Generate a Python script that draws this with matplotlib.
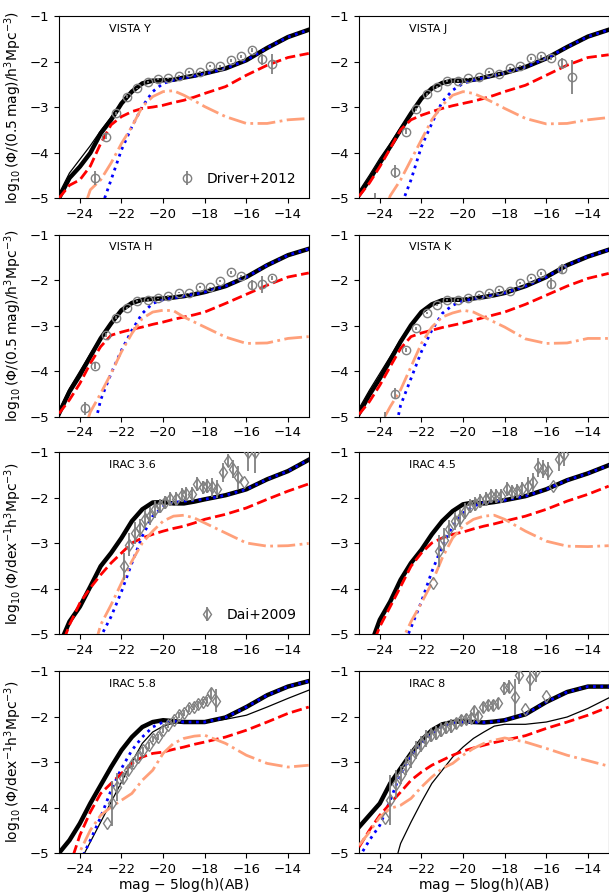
import matplotlib.pyplot as plt

plt.rcParams['mathtext.default'] = 'regular'
plt.rcParams['font.size'] = 9.5

# magnitude grid shared by all model curves
mag = [-25, -24.5, -24, -23.5, -23, -22.5, -22, -21.5, -21, -20.5, -20,
       -19.5, -19, -18.5, -18, -17, -16, -15, -14, -13]

# ---- VISTA Y ----
y_total = [-5.0, -4.56, -4.31, -4.01, -3.58, -3.28, -2.92, -2.66, -2.48, -2.42, -2.41,
           -2.40, -2.35, -2.31, -2.26, -2.15, -1.97, -1.70, -1.46, -1.30]
y_thin = [-4.9, -4.45, -4.15, -3.85, -3.52, -3.22, -2.90, -2.65, -2.48, -2.42, -2.41,
          -2.40, -2.35, -2.31, -2.26, -2.15, -1.97, -1.70, -1.46, -1.30]
y_blue = [-6, -6, -6, -5.8, -5.25, -4.6, -3.94, -3.43, -2.99, -2.66, -2.48,
          -2.41, -2.36, -2.32, -2.27, -2.15, -1.97, -1.70, -1.46, -1.30]
y_red = [-5.0, -4.72, -4.6, -4.3, -3.8, -3.39, -3.21, -3.10, -3.03, -3.0, -2.96,
         -2.90, -2.85, -2.78, -2.70, -2.55, -2.30, -2.08, -1.91, -1.82]
y_dd = [-6, -6, -5.5, -4.82, -4.6, -4.23, -3.80, -3.43, -2.99, -2.77, -2.66,
        -2.64, -2.74, -2.86, -2.99, -3.21, -3.36, -3.36, -3.28, -3.25]
y_obs_x = [-23.25, -22.75, -22.25, -21.75, -21.25, -20.75, -20.25, -19.75, -19.25,
           -18.75, -18.25, -17.75, -17.25, -16.75, -16.25, -15.75, -15.25, -14.75]
y_obs = [-4.56, -3.65, -3.14, -2.77, -2.59, -2.45, -2.39, -2.37, -2.32,
         -2.23, -2.23, -2.10, -2.10, -1.97, -1.88, -1.74, -1.95, -2.06]
y_obs_err = [0.15, 0.05, 0.03, 0.03, 0.02, 0.02, 0.02, 0.02, 0.02,
             0.02, 0.02, 0.02, 0.02, 0.03, 0.03, 0.04, 0.12, 0.22]

# ---- VISTA J ----
j_total = [-4.93, -4.6, -4.23, -3.87, -3.5, -3.14, -2.81, -2.59, -2.47, -2.42, -2.42,
           -2.40, -2.35, -2.30, -2.25, -2.12, -1.93, -1.68, -1.45, -1.30]
j_thin = [-4.85, -4.5, -4.13, -3.8, -3.45, -3.12, -2.80, -2.59, -2.47, -2.42, -2.42,
          -2.40, -2.35, -2.30, -2.25, -2.12, -1.93, -1.68, -1.45, -1.30]
j_blue = [-6, -6, -6, -6, -5.2, -4.6, -3.87, -3.36, -2.88, -2.63, -2.48,
          -2.41, -2.36, -2.31, -2.25, -2.12, -1.93, -1.68, -1.45, -1.30]
j_red = [-4.96, -4.67, -4.31, -3.91, -3.5, -3.28, -3.18, -3.10, -3.03, -2.97, -2.92,
         -2.87, -2.81, -2.74, -2.66, -2.52, -2.30, -2.08, -1.91, -1.85]
j_dd = [-6, -6, -5.6, -4.95, -4.6, -4.16, -3.72, -3.28, -2.96, -2.74, -2.66,
        -2.70, -2.80, -2.91, -3.03, -3.25, -3.37, -3.36, -3.28, -3.23]
j_obs_x = [-24.25, -23.25, -22.75, -22.25, -21.75, -21.25, -20.75, -20.25, -19.75,
           -19.25, -18.75, -18.25, -17.75, -17.25, -16.75, -16.25, -15.75, -15.25, -14.75]
j_obs = [-5.1, -4.42, -3.54, -3.05, -2.72, -2.55, -2.42, -2.42, -2.37,
         -2.34, -2.23, -2.28, -2.14, -2.09, -1.93, -1.88, -1.93, -2.04, -2.34]
j_obs_err = [0.2, 0.15, 0.05, 0.03, 0.03, 0.02, 0.02, 0.02, 0.02,
             0.02, 0.02, 0.02, 0.02, 0.02, 0.03, 0.03, 0.04, 0.12, 0.38]

# ---- VISTA H ----
h_total = [-4.93, -4.45, -4.09, -3.68, -3.28, -2.95, -2.66, -2.50, -2.43, -2.41, -2.40,
           -2.38, -2.35, -2.31, -2.26, -2.13, -1.93, -1.67, -1.45, -1.31]
h_thin = [-4.85, -4.38, -4.0, -3.62, -3.25, -2.93, -2.66, -2.50, -2.43, -2.41, -2.40,
          -2.38, -2.35, -2.31, -2.26, -2.13, -1.93, -1.67, -1.45, -1.31]
h_blue = [-6, -6, -6, -5.6, -4.63, -4.05, -3.54, -3.10, -2.73, -2.51, -2.43,
          -2.39, -2.35, -2.31, -2.26, -2.13, -1.93, -1.67, -1.45, -1.31]
h_red = [-4.93, -4.63, -4.27, -3.83, -3.46, -3.21, -3.14, -3.08, -3.03, -2.97, -2.92,
         -2.86, -2.81, -2.76, -2.70, -2.51, -2.31, -2.11, -1.93, -1.84]
h_dd = [-6, -6, -5.6, -4.9, -4.49, -4.05, -3.57, -3.17, -2.84, -2.70, -2.66,
        -2.67, -2.81, -2.92, -3.03, -3.25, -3.39, -3.38, -3.28, -3.24]
h_obs_x = [-23.75, -23.25, -22.75, -22.25, -21.75, -21.25, -20.75, -20.25, -19.75,
           -19.25, -18.75, -18.25, -17.75, -17.25, -16.75, -16.25, -15.75, -15.25, -14.75]
h_obs = [-4.82, -3.88, -3.21, -2.82, -2.61, -2.46, -2.44, -2.40, -2.35,
         -2.27, -2.29, -2.15, -2.16, -2.02, -1.83, -1.91, -2.10, -2.09, -1.95]
h_obs_err = [0.15, 0.08, 0.04, 0.03, 0.02, 0.02, 0.02, 0.02, 0.02,
             0.02, 0.02, 0.02, 0.02, 0.02, 0.03, 0.03, 0.1, 0.18, 0.04]

# ---- VISTA K ----
k_total = [-4.93, -4.52, -4.16, -3.76, -3.35, -2.99, -2.70, -2.53, -2.44, -2.43, -2.43,
           -2.40, -2.37, -2.33, -2.28, -2.13, -1.93, -1.67, -1.48, -1.33]
k_thin = [-4.82, -4.42, -4.05, -3.68, -3.30, -2.97, -2.70, -2.53, -2.44, -2.43, -2.43,
          -2.40, -2.37, -2.33, -2.28, -2.13, -1.93, -1.67, -1.48, -1.33]
k_blue = [-6, -6, -6, -5.8, -4.75, -4.16, -3.57, -3.10, -2.73, -2.55, -2.46,
          -2.41, -2.37, -2.33, -2.28, -2.13, -1.93, -1.67, -1.48, -1.33]
k_red = [-4.95, -4.67, -4.31, -3.9, -3.50, -3.24, -3.16, -3.10, -3.04, -2.99, -2.94,
         -2.88, -2.82, -2.76, -2.70, -2.53, -2.33, -2.13, -1.96, -1.85]
k_dd = [-6, -6, -5.2, -4.78, -4.41, -3.90, -3.39, -3.03, -2.81, -2.72, -2.66,
        -2.70, -2.81, -2.92, -3.03, -3.29, -3.39, -3.38, -3.28, -3.28]
k_obs_x = [-23.75, -23.25, -22.75, -22.25, -21.75, -21.25, -20.75, -20.25, -19.75,
           -19.25, -18.75, -18.25, -17.75, -17.25, -16.75, -16.25, -15.75, -15.25]
k_obs = [-5.2, -4.50, -3.54, -3.06, -2.72, -2.54, -2.43, -2.43, -2.38,
         -2.33, -2.28, -2.21, -2.24, -2.06, -1.95, -1.85, -2.08, -1.75]
k_obs_err = [0.3, 0.12, 0.04, 0.03, 0.03, 0.02, 0.02, 0.02, 0.02,
             0.02, 0.02, 0.02, 0.02, 0.02, 0.03, 0.03, 0.12, 0.1]

# ---- IRAC 3.6 ----
i1_total = [-5.25, -4.72, -4.39, -3.95, -3.50, -3.21, -2.88, -2.51, -2.25, -2.10, -2.09,
            -2.12, -2.12, -2.08, -2.03, -1.94, -1.81, -1.59, -1.41, -1.16]
i1_blue = [-6, -6, -6, -6, -5.05, -4.61, -4.06, -3.43, -2.84, -2.40, -2.19,
           -2.10, -2.07, -2.05, -2.03, -1.94, -1.81, -1.59, -1.41, -1.16]
i1_red = [-5.4, -4.79, -4.31, -3.98, -3.69, -3.43, -3.21, -2.99, -2.88, -2.80, -2.73,
          -2.67, -2.62, -2.55, -2.47, -2.36, -2.22, -2.03, -1.85, -1.69]
i1_dd = [-6, -6, -6, -5.6, -4.79, -4.35, -3.87, -3.39, -2.99, -2.73, -2.51,
         -2.40, -2.38, -2.44, -2.55, -2.77, -2.99, -3.06, -3.05, -3.00]
i1_obs_x = [-21.88, -21.64, -21.37, -21.13, -20.89, -20.65, -20.40, -20.17, -19.90,
            -19.67, -19.40, -19.10, -18.90, -18.60, -18.36, -18.10, -17.90, -17.65,
            -17.40, -17.10, -16.90, -16.65, -16.40, -16.10, -15.90, -15.60]
i1_obs = [-3.50, -3.03, -2.77, -2.66, -2.47, -2.40, -2.25, -2.18, -2.10,
          -2.03, -2.03, -1.94, -1.92, -1.92, -1.70, -1.77, -1.74, -1.77,
          -1.81, -1.44, -1.18, -1.37, -1.55, -1.66, -1.00, -1.00]
i1_obs_err = [0.3, 0.25, 0.25, 0.2, 0.2, 0.2, 0.18, 0.15, 0.15,
              0.15, 0.15, 0.15, 0.15, 0.15, 0.15, 0.15, 0.15, 0.2,
              0.2, 0.2, 0.15, 0.2, 0.25, 0.0, 0.4, 0.45]

# ---- IRAC 4.5 ----
i2_total = [-5.9, -5.3, -4.68, -4.28, -3.80, -3.43, -3.14, -2.80, -2.51, -2.29, -2.14,
            -2.10, -2.12, -2.09, -2.05, -1.96, -1.81, -1.61, -1.46, -1.28]
i2_blue = [-6, -6, -6, -6, -5.4, -4.85, -4.28, -3.62, -3.06, -2.62, -2.33,
           -2.18, -2.10, -2.07, -2.05, -1.96, -1.81, -1.61, -1.46, -1.28]
i2_red = [-6, -5.4, -4.83, -4.39, -3.95, -3.50, -3.21, -2.99, -2.88, -2.80, -2.75,
          -2.68, -2.62, -2.57, -2.51, -2.40, -2.25, -2.07, -1.92, -1.74]
i2_dd = [-6, -6, -6, -6, -5.2, -4.72, -4.31, -3.87, -3.32, -2.88, -2.62,
         -2.47, -2.40, -2.38, -2.47, -2.73, -2.95, -3.06, -3.07, -3.05]
i2_obs_x = [-21.42, -21.16, -20.92, -20.68, -20.40, -20.17, -19.90, -19.66, -19.42,
            -19.18, -18.92, -18.65, -18.40, -18.17, -17.90, -17.64, -17.40, -17.16,
            -16.90, -16.65, -16.40, -16.17, -15.93, -15.66, -15.40, -15.16]
i2_obs = [-3.87, -3.17, -2.92, -2.69, -2.51, -2.44, -2.29, -2.18, -2.14,
          -2.07, -2.03, -1.96, -1.96, -1.96, -1.81, -1.87, -1.85, -1.81,
          -1.74, -1.66, -1.33, -1.37, -1.40, -1.74, -1.15, -1.04]
i2_obs_err = [0.0, 0.35, 0.25, 0.2, 0.2, 0.2, 0.18, 0.15, 0.15,
              0.15, 0.15, 0.15, 0.15, 0.15, 0.15, 0.15, 0.15, 0.15,
              0.2, 0.2, 0.2, 0.2, 0.2, 0.0, 0.25, 0.25]

# ---- IRAC 5.8 ----
i3_total = [-5.0, -4.72, -4.35, -3.91, -3.51, -3.11, -2.74, -2.45, -2.23, -2.12, -2.08,
            -2.10, -2.12, -2.12, -2.12, -2.02, -1.79, -1.53, -1.34, -1.22]
i3_thin = [-6, -6, -5.2, -4.76, -4.32, -3.88, -3.44, -3.00, -2.59, -2.34, -2.21,
           -2.14, -2.12, -2.12, -2.12, -2.06, -1.97, -1.79, -1.60, -1.42]
i3_blue = [-6, -6, -5.2, -4.72, -4.21, -3.62, -3.14, -2.74, -2.45, -2.23, -2.12,
           -2.10, -2.12, -2.12, -2.12, -2.02, -1.79, -1.53, -1.34, -1.22]
i3_red = [-6, -5.3, -4.61, -4.10, -3.69, -3.47, -3.25, -3.03, -2.89, -2.81, -2.78,
          -2.72, -2.67, -2.61, -2.56, -2.45, -2.30, -2.12, -1.93, -1.79]
i3_dd = [-6, -5.6, -4.97, -4.5, -4.17, -3.99, -3.84, -3.69, -3.40, -3.18, -2.81,
         -2.59, -2.48, -2.43, -2.41, -2.59, -2.85, -3.03, -3.11, -3.07]
i3_obs_x = [-22.70, -22.44, -22.20, -21.93, -21.70, -21.45, -21.20, -20.96, -20.70,
            -20.47, -20.25, -20.00, -19.75, -19.50, -19.26, -19.00, -18.77, -18.50,
            -18.30, -18.10, -17.90, -17.70, -17.45]
i3_obs = [-4.34, -3.91, -3.55, -3.36, -3.18, -3.03, -2.89, -2.74, -2.63,
          -2.50, -2.45, -2.30, -2.19, -2.08, -1.97, -1.92, -1.82, -1.79,
          -1.73, -1.68, -1.64, -1.49, -1.65]
i3_obs_err = [0.0, 0.5, 0.3, 0.1, 0.1, 0.08, 0.08, 0.08, 0.08,
              0.07, 0.07, 0.07, 0.07, 0.07, 0.07, 0.07, 0.07, 0.07,
              0.07, 0.07, 0.07, 0.1, 0.25]

# ---- IRAC 8 ----
i4_total = [-4.43, -4.17, -3.91, -3.47, -3.14, -2.81, -2.52, -2.30, -2.17, -2.12, -2.10,
            -2.12, -2.13, -2.11, -2.08, -1.95, -1.68, -1.46, -1.34, -1.34]
i4_thin = [-6, -6, -6, -5.6, -4.79, -4.32, -3.88, -3.47, -3.18, -2.89, -2.67,
           -2.48, -2.34, -2.21, -2.17, -2.17, -2.12, -2.01, -1.82, -1.59]
i4_blue = [-5.1, -4.72, -4.39, -3.84, -3.25, -2.88, -2.60, -2.38, -2.21, -2.14, -2.12,
           -2.12, -2.13, -2.11, -2.08, -1.95, -1.68, -1.46, -1.34, -1.34]
i4_red = [-4.87, -4.50, -4.17, -3.91, -3.66, -3.40, -3.22, -3.07, -2.96, -2.85, -2.76,
          -2.69, -2.63, -2.57, -2.52, -2.42, -2.26, -2.12, -1.97, -1.79]
i4_dd = [-4.83, -4.54, -4.21, -4.02, -3.95, -3.80, -3.55, -3.33, -3.14, -3.03, -2.85,
         -2.70, -2.59, -2.52, -2.47, -2.56, -2.70, -2.85, -2.97, -3.09]
i4_obs_x = [-23.74, -23.50, -23.24, -23.00, -22.76, -22.52, -22.28, -22.04, -21.80,
            -21.56, -21.32, -21.05, -20.80, -20.57, -20.33, -20.10, -19.84, -19.60,
            -19.48, -19.26, -19.05, -18.80, -18.57, -18.33, -18.04, -17.77, -17.50,
            -17.30, -17.00, -16.78, -16.50, -16.00]
i4_obs = [-4.24, -3.83, -3.48, -3.29, -3.09, -2.92, -2.74, -2.61, -2.48,
          -2.41, -2.36, -2.30, -2.24, -2.21, -2.15, -2.08, -2.06, -2.04,
          -1.87, -1.99, -1.79, -1.75, -1.75, -1.71, -1.38, -1.34, -1.57,
          -1.09, -1.84, -1.18, -1.00, -1.55]
i4_obs_err = [0.0, 0.55, 0.3, 0.2, 0.2, 0.2, 0.2, 0.18, 0.18,
              0.15, 0.15, 0.15, 0.15, 0.15, 0.12, 0.12, 0.12, 0.12,
              0.1, 0.1, 0.12, 0.12, 0.12, 0.12, 0.15, 0.15, 0.4,
              0.2, 0.0, 0.25, 0.25, 0.0]

names = ['VISTA Y', 'VISTA J', 'VISTA H', 'VISTA K',
         'IRAC 3.6', 'IRAC 4.5', 'IRAC 5.8', 'IRAC 8']
totals = [y_total, j_total, h_total, k_total, i1_total, i2_total, i3_total, i4_total]
thins = [y_thin, j_thin, h_thin, k_thin, None, None, i3_thin, i4_thin]
blues = [y_blue, j_blue, h_blue, k_blue, i1_blue, i2_blue, i3_blue, i4_blue]
reds = [y_red, j_red, h_red, k_red, i1_red, i2_red, i3_red, i4_red]
dds = [y_dd, j_dd, h_dd, k_dd, i1_dd, i2_dd, i3_dd, i4_dd]
obs = [(y_obs_x, y_obs, y_obs_err), (j_obs_x, j_obs, j_obs_err),
       (h_obs_x, h_obs, h_obs_err), (k_obs_x, k_obs, k_obs_err),
       (i1_obs_x, i1_obs, i1_obs_err), (i2_obs_x, i2_obs, i2_obs_err),
       (i3_obs_x, i3_obs, i3_obs_err), (i4_obs_x, i4_obs, i4_obs_err)]

ylab_mag = r'$\log_{10}(\Phi/(0.5\,mag)/h^3Mpc^{-3})$'
ylab_dex = r'$\log_{10}(\Phi/dex^{-1}h^3Mpc^{-3})$'

fig = plt.figure(figsize=(6.09, 8.96), dpi=100)
bottoms = [0.779, 0.535, 0.292, 0.048]
lefts = [0.097, 0.5895]

for i in range(8):
    row, col = divmod(i, 2)
    ax = fig.add_axes([lefts[col], bottoms[row], 0.41, 0.203])
    ax.plot(mag, totals[i], color='black', lw=3.2, zorder=2)
    if thins[i] is not None:
        ax.plot(mag, thins[i], color='black', lw=0.9, zorder=2)
    ax.plot(mag, blues[i], color='blue', ls=':', lw=2, zorder=3)
    ax.plot(mag, reds[i], color='red', ls='--', lw=2, zorder=3)
    ax.plot(mag, dds[i], color='lightsalmon', ls='-.', lw=2, zorder=3)

    ox, oy, oe = obs[i]
    marker = 'o' if i < 4 else 'd'
    label = 'Driver+2012' if i < 4 else 'Dai+2009'
    ax.errorbar(ox, oy, yerr=oe, fmt=marker, ms=6, mfc='none', mec='gray',
                ecolor='gray', elinewidth=1.3, mew=1, capsize=0, zorder=4,
                label=label)
    if i in (0, 4):
        ax.legend(loc='lower right', frameon=False, fontsize=10,
                  handlelength=1.2, numpoints=1)

    ax.text(0.2, 0.93, names[i], transform=ax.transAxes, fontsize=8,
            ha='left', va='center')
    ax.set_xlim(-25, -13)
    ax.set_ylim(-5, -1)
    ax.set_xticks([-24, -22, -20, -18, -16, -14])
    ax.set_yticks([-5, -4, -3, -2, -1])
    if col == 0:
        ax.set_ylabel(ylab_mag if row < 2 else ylab_dex, fontsize=10)
    if row == 3:
        ax.set_xlabel('mag $-$ 5log(h)(AB)', fontsize=10, labelpad=0.5)

fig.savefig('out.png', dpi=100)
